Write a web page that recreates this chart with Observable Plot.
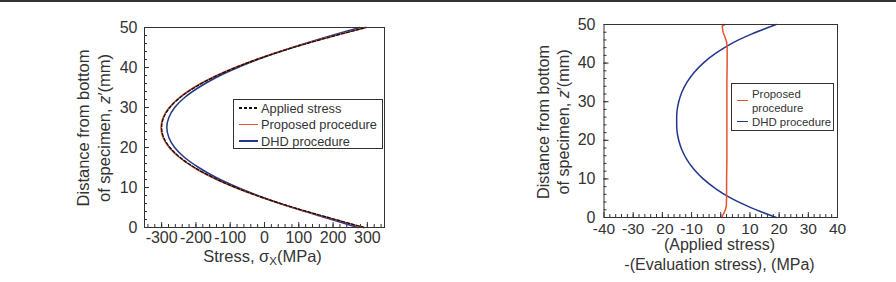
<!DOCTYPE html>
<html>
<head>
<meta charset="utf-8">
<script src="https://cdn.jsdelivr.net/npm/d3@7"></script>
<script src="https://cdn.jsdelivr.net/npm/@observablehq/plot@0.6"></script>
<style>
  body { margin: 0; background: #fff; }
  #wrap { position: relative; width: 896px; height: 282px; overflow: hidden; font-family: "Liberation Sans", Arial, sans-serif; color: #333; background: #fff; }
  #wrap svg { position: absolute; top: 0; overflow: visible; }
  .topbar { position: absolute; left: 0; top: 0; width: 896px; height: 2px; background: #333; }
  .lbl { position: absolute; white-space: nowrap; text-align: center; font-size: 16.5px; line-height: 21px; }
  .ylbl { transform: translate(-50%, -50%) rotate(-90deg); }
  .xlbl { transform: translateX(-50%); }
  .legend { position: absolute; border: 1px solid #333; background: #fff; box-sizing: border-box; }
  .row { position: absolute; white-space: nowrap; }
  .sample { position: absolute; height: 1.5px; }
</style>
</head>
<body>
<div id="wrap">
  <div class="topbar"></div>
</div>
<script>
// ---------------- data ----------------
// depth levels, mm (distance from bottom of specimen)
const zLevels = [0, 2.5, 5, 7.5, 10, 12.5, 15, 17.5, 20, 22.5, 25, 27.5, 30, 32.5, 35, 37.5, 40, 42.5, 45, 47.5, 50];
// left panel: stress, MPa
const appliedStress  = [290, 186, 84, -6, -84, -150, -204, -246, -276, -294, -300, -294, -276, -246, -204, -150, -84, -6, 84, 186, 296];
const proposedStress = [290, 184, 82, -8, -86, -152, -206, -248, -278, -296, -302, -296, -278, -248, -206, -152, -86, -8, 82, 184, 296];
const dhdStress      = [272, 176, 81, -4, -78, -141, -192, -233, -262, -279, -285, -279, -262, -233, -192, -141, -78, -4, 81, 176, 278];
// right panel: (applied) - (evaluation) stress, MPa
const dhdError = [19, 10.5, 3.5, -1.8, -6, -9.2, -11.6, -13.3, -14.4, -15, -15.1, -15, -14.4, -13.3, -11.6, -9.2, -6, -1.8, 3.5, 10.5, 19];
const proposedErrZ  = [0, 0.5, 1, 2, 3, 5, 10, 15, 20, 25, 30, 35, 40, 44, 45.5, 47, 48, 49, 49.6, 50];
const proposedError = [0.4, 0.6, 1.0, 1.6, 1.9, 2.0, 2.0, 2.1, 2.1, 2.1, 2.1, 2.1, 2.2, 2.2, 2.0, 1.3, 0.8, 0.6, 0.5, 1.4];
// tick labels
const leftXTicks  = [-300, -200, -100, 0, 100, 200, 300];
const rightXTicks = [-40, -30, -20, -10, 0, 10, 20, 30, 40];
const yTicks      = [0, 10, 20, 30, 40, 50];
// legend labels
const leftLegend  = ["Applied stress", "Proposed procedure", "DHD procedure"];
const rightLegend = ["Proposed\nprocedure", "DHD procedure"];

const ink = "#333";
const red = "#e5532f";
const blue = "#22378c";

const toRows = (zs, vs) => zs.map((z, i) => ({z, v: vs[i]}));
const fmt = d => String(d);

// ---------------- left panel ----------------
const L = {w: 450, h: 282, ml: 144, mr: 66, mt: 27, mb: 55};
const Lpw = L.w - L.ml - L.mr, Lph = L.h - L.mt - L.mb;
const left = Plot.plot({
  width: L.w, height: L.h,
  marginLeft: L.ml, marginRight: L.mr, marginTop: L.mt, marginBottom: L.mb,
  x: {domain: [-350, 350]},
  y: {domain: [0, 50]},
  style: {fontFamily: '"Liberation Sans", Arial, sans-serif', fontSize: "16px", color: ink, background: "transparent"},
  marks: [
    Plot.tickX(d3.range(-340, 341, 20), {x: d => d, stroke: ink, insetTop: Lph - 3}),
    Plot.tickX(leftXTicks, {x: d => d, stroke: ink, insetTop: Lph - 5}),
    Plot.tickY(d3.range(2, 50, 2), {y: d => d, stroke: ink, insetRight: Lpw - 3}),
    Plot.tickY(yTicks, {y: d => d, stroke: ink, insetRight: Lpw - 5}),
    Plot.axisX(leftXTicks, {tickSize: 0, tickPadding: 4, tickFormat: fmt, fontSize: 16, label: null}),
    Plot.axisY(yTicks, {tickSize: 0, tickPadding: 7, tickFormat: fmt, fontSize: 16, label: null}),
    Plot.line(toRows(zLevels, dhdStress), {x: "v", y: "z", stroke: blue, strokeWidth: 1.5, curve: "catmull-rom"}),
    Plot.line(toRows(zLevels, proposedStress), {x: "v", y: "z", stroke: red, strokeWidth: 1.5, curve: "catmull-rom"}),
    Plot.line(toRows(zLevels, appliedStress), {x: "v", y: "z", stroke: "#111", strokeWidth: 1.4, strokeDasharray: "3,2", curve: "catmull-rom"}),
    Plot.frame({stroke: ink})
  ]
});
left.style.left = "0px";

// ---------------- right panel ----------------
const R = {x0: 450, w: 446, h: 282, ml: 153.5, mr: 59, mt: 24, mb: 65};
const Rpw = R.w - R.ml - R.mr, Rph = R.h - R.mt - R.mb;
const right = Plot.plot({
  width: R.w, height: R.h,
  marginLeft: R.ml, marginRight: R.mr, marginTop: R.mt, marginBottom: R.mb,
  x: {domain: [-40, 40]},
  y: {domain: [0, 50]},
  style: {fontFamily: '"Liberation Sans", Arial, sans-serif', fontSize: "16px", color: ink, background: "transparent"},
  marks: [
    Plot.tickX(d3.range(-38, 39, 2), {x: d => d, stroke: ink, insetTop: Rph - 3}),
    Plot.tickX(rightXTicks, {x: d => d, stroke: ink, insetTop: Rph - 5}),
    Plot.tickY(d3.range(2, 50, 2), {y: d => d, stroke: ink, insetRight: Rpw - 3}),
    Plot.tickY(yTicks, {y: d => d, stroke: ink, insetRight: Rpw - 5}),
    Plot.axisX(rightXTicks, {tickSize: 0, tickPadding: 5.5, tickFormat: fmt, fontSize: 15.5, label: null}),
    Plot.axisY(yTicks, {tickSize: 0, tickPadding: 8.5, tickFormat: fmt, fontSize: 16, label: null}),
    Plot.line(toRows(zLevels, dhdError), {x: "v", y: "z", stroke: blue, strokeWidth: 1.5, curve: "catmull-rom"}),
    Plot.line(toRows(proposedErrZ, proposedError), {x: "v", y: "z", stroke: red, strokeWidth: 1.5, curve: "linear"}),
    Plot.frame({stroke: ink})
  ]
});
right.style.left = R.x0 + "px";

const wrap = document.getElementById("wrap");
wrap.appendChild(left);
wrap.appendChild(right);

// ---------------- axis titles ----------------
function addDiv(cls, html, css) {
  const d = document.createElement("div");
  d.className = cls;
  d.innerHTML = html;
  Object.assign(d.style, css);
  wrap.appendChild(d);
  return d;
}
addDiv("lbl xlbl", 'Stress, σ<span style="font-size:11.5px;position:relative;top:3px">X</span>(MPa)', {left: "262.5px", top: "246px"});
addDiv("lbl ylbl", 'Distance from bottom<br>of specimen, <i>z</i>\u2032(mm)', {left: "93.5px", top: "128px"});
addDiv("lbl ylbl", 'Distance from bottom<br>of specimen, <i>z</i>\u2032(mm)', {left: "553px", top: "122px", fontSize: "16.2px", lineHeight: "20px"});
addDiv("lbl xlbl", '(Applied stress)<br>-(Evaluation stress), (MPa)', {left: "719.5px", top: "234.5px", fontSize: "16px", lineHeight: "20px"});

// ---------------- legends ----------------
const lg1 = addDiv("legend", "", {left: "233px", top: "99px", width: "150px", height: "50px"});
const lgBg = [
  "repeating-linear-gradient(90deg, #111 0 3px, transparent 3px 5px)",
  red,
  blue
];
leftLegend.forEach((t, i) => {
  const cy = 8 + i * 16.5;
  const s = document.createElement("div");
  s.className = "sample";
  Object.assign(s.style, {left: "5px", width: "19px", top: (cy - 0.75) + "px", background: lgBg[i]});
  lg1.appendChild(s);
  const r = document.createElement("div");
  r.className = "row";
  r.textContent = t;
  Object.assign(r.style, {left: "27px", top: (cy - 8.5) + "px", fontSize: "12.8px", lineHeight: "17px"});
  lg1.appendChild(r);
});

const lg2 = addDiv("legend", "", {left: "731px", top: "83px", width: "103px", height: "48px"});
const lg2Colors = [red, blue];
const lg2Y = [16.5, 37.5];
rightLegend.forEach((t, i) => {
  const lines = t.split("\n");
  const s = document.createElement("div");
  s.className = "sample";
  Object.assign(s.style, {left: "5px", width: "11px", top: (lg2Y[i] - 0.75) + "px", background: lg2Colors[i]});
  lg2.appendChild(s);
  const r = document.createElement("div");
  r.className = "row";
  r.innerHTML = lines.join("<br>");
  const top0 = (lines.length === 2 ? 2.5 : 30.5);
  Object.assign(r.style, {left: "20px", top: top0 + "px", fontSize: "11.4px", lineHeight: "14px"});
  lg2.appendChild(r);
});
</script>
</body>
</html>
